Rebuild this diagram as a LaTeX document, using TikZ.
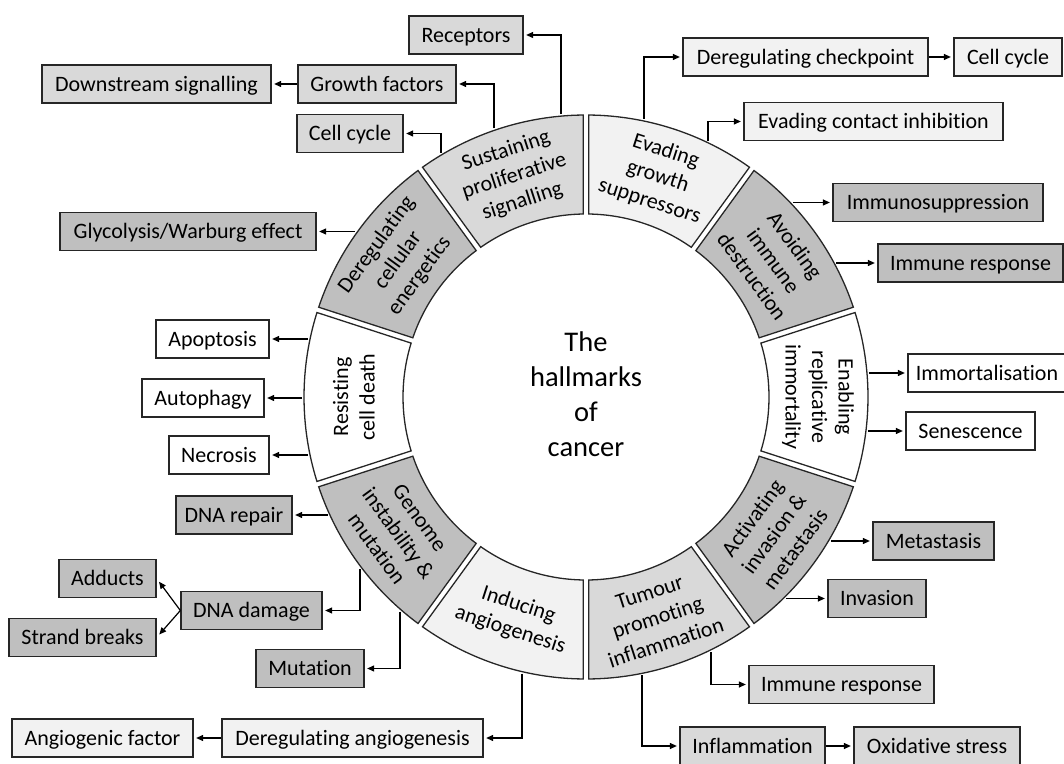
\documentclass[tikz,border=0pt]{standalone}
\usepackage{fontspec}
\setmainfont{Carlito}[Ligatures={NoCommon}]
\usetikzlibrary{arrows.meta,calc}
\definecolor{cD}{HTML}{BFBFBF}
\definecolor{cL}{HTML}{D9D9D9}
\definecolor{cV}{HTML}{F2F2F2}
\definecolor{edgec}{HTML}{262626}
\begin{document}
\begin{tikzpicture}[x=1pt,y=1pt,
  box/.style={draw=edgec, line width=1.3pt, minimum height=38pt, inner sep=0pt,
    text height=17.3pt, text depth=3.2pt, font=\fontsize{22}{26}\selectfont},
  conn/.style={line width=1.2pt, -{Triangle[length=7pt,width=6pt]}, shorten >=2.5pt},
  seg/.style={draw=edgec, line width=1.3pt},
  segtext/.style={align=center, inner sep=0pt, font=\fontsize{22}{26.5}\selectfont}
]
\useasboundingbox (0,0) rectangle (1064,763);

% ---------- boxes ----------
\node[box, fill=cL, minimum width=114pt] (rec) at (466,728) {Receptors};
\node[box, fill=cL, minimum width=229pt] (down) at (156.5,679) {Downstream signalling};
\node[box, fill=cL, minimum width=158pt] (grow) at (377,679) {Growth factors};
\node[box, fill=cL, minimum width=106pt] (ccl) at (350,629.5) {Cell cycle};
\node[box, fill=cD, minimum width=256pt] (gly) at (188,531.5) {Glycolysis/Warburg effect};
\node[box, fill=white, minimum width=113pt] (apo) at (212.5,424) {Apoptosis};
\node[box, fill=white, minimum width=122pt] (aut) at (203,365) {Autophagy};
\node[box, fill=white, minimum width=100pt] (nec) at (219,308) {Necrosis};
\node[box, fill=cD, minimum width=116pt] (dnar) at (234,248) {DNA repair};
\node[box, fill=cD, minimum width=97pt] (add) at (107.5,184.5) {Adducts};
\node[box, fill=cD, minimum width=141pt] (dnad) at (251.5,152.5) {DNA damage};
\node[box, fill=cD, minimum width=147pt] (str) at (82.5,125.5) {Strand breaks};
\node[box, fill=cD, minimum width=108pt] (mut) at (310,94.5) {Mutation};
\node[box, fill=cV, minimum width=181pt] (angf) at (102.5,25) {Angiogenic factor};
\node[box, fill=cV, minimum width=261pt] (dang) at (352.5,25) {Deregulating angiogenesis};
\node[box, fill=cV, minimum width=245pt] (chk) at (805.5,706) {Deregulating checkpoint};
\node[box, fill=cV, minimum width=108pt] (ccr) at (1008,706) {Cell cycle};
\node[box, fill=cV, minimum width=259pt] (eva) at (873.5,641.5) {Evading contact inhibition};
\node[box, fill=cD, minimum width=210pt] (ims) at (938,560.5) {Immunosuppression};
\node[box, fill=cD, minimum width=185pt] (imr) at (970.5,500) {Immune response};
\node[box, fill=white, minimum width=158pt] (imm) at (987,390) {Immortalisation};
\node[box, fill=white, minimum width=129pt] (sen) at (970.5,332) {Senescence};
\node[box, fill=cD, minimum width=121pt] (met) at (933.5,222) {Metastasis};
\node[box, fill=cD, minimum width=98pt] (inv) at (877,164.5) {Invasion};
\node[box, fill=cL, minimum width=185pt] (imb) at (841.5,78.5) {Immune response};
\node[box, fill=cL, minimum width=145pt] (inf) at (752.5,17) {Inflammation};
\node[box, fill=cL, minimum width=166pt] (oxi) at (937,17) {Oxidative stress};

% ---------- connector start points on the ring ----------
\coordinate (sRec) at (561,{366+284*cos(asin((561-586)/284))});
\coordinate (sGro) at (494,{366+284*cos(asin((494-586)/284))});
\coordinate (sCcl) at (441,{366+284*cos(asin((441-586)/284))});
\coordinate (sGly) at ({586-284*cos(asin((531.5-366)/284))},531.5);
\coordinate (sApo) at ({586-284*cos(asin((424-366)/284))},424);
\coordinate (sAut) at ({586-284},365);
\coordinate (sNec) at ({586-284*cos(asin((308-366)/284))},308);
\coordinate (sDnar) at ({586-284*cos(asin((248-366)/284))},248);
\coordinate (sDnad) at (360,{366-284*cos(asin((360-586)/284))});
\coordinate (sMut) at (400,{366-284*cos(asin((400-586)/284))});
\coordinate (sDang) at (522,{366-284*cos(asin((522-586)/284))});
\coordinate (sChk) at (644,{366+284*cos(asin((644-586)/284))});
\coordinate (sEva) at (708,{366+284*cos(asin((708-586)/284))});
\coordinate (sIms) at ({586+284*cos(asin((560.5-366)/284))},560.5);
\coordinate (sImr) at ({586+284*cos(asin((500-366)/284))},500);
\coordinate (sImm) at ({586+284*cos(asin((390-366)/284))},390);
\coordinate (sSen) at ({586+284*cos(asin((332-366)/284))},332);
\coordinate (sMet) at ({586+284*cos(asin((222-366)/284))},222);
\coordinate (sInv) at ({586+284*cos(asin((164.5-366)/284))},164.5);
\coordinate (sImb) at (711,{366-284*cos(asin((711-586)/284))});
\coordinate (sInf) at (642,{366-284*cos(asin((642-586)/284))});

% ---------- connectors ----------
\draw[conn] (sRec) |- (rec.east);
\draw[conn] (sGro) |- (grow.east);
\draw[conn] (grow.west) -- (down.east);
\draw[conn] (sCcl) |- (ccl.east);
\draw[conn] (sGly) -- (gly.east);
\draw[conn] (sApo) -- (apo.east);
\draw[conn] (sAut) -- (aut.east);
\draw[conn] (sNec) -- (nec.east);
\draw[conn] (sDnar) -- (dnar.east);
\draw[conn] (sDnad) |- (dnad.east);
\draw[conn, shorten >=4pt] (dnad.west) -- (add.east);
\draw[conn, shorten >=4pt] (dnad.west) -- (str.east);
\draw[conn] (sMut) |- (mut.east);
\draw[conn] (sDang) |- (dang.east);
\draw[conn] (dang.west) -- (angf.east);
\draw[conn] (sChk) |- (chk.west);
\draw[conn] (chk.east) -- (ccr.west);
\draw[conn] (sEva) |- (eva.west);
\draw[conn] (sIms) -- (ims.west);
\draw[conn] (sImr) -- (imr.west);
\draw[conn] (sImm) -- (imm.west);
\draw[conn] (sSen) -- (sen.west);
\draw[conn] (sMet) -- (met.west);
\draw[conn] (sInv) -- (inv.west);
\draw[conn] (sImb) |- (imb.west);
\draw[conn] (sInf) |- (inf.west);
\draw[conn] (inf.east) -- (oxi.west);

% ---------- ring ----------
\begin{scope}[shift={(586,366)}]
\foreach \ca/\fc/\rot/\txt [count=\i] in {
 108/cL/18/{Sustaining\\proliferative\\signalling},
 72/cV/-18/{Evading\\growth\\suppressors},
 36/cD/-54/{Avoiding\\immune\\destruction},
 0/white/-90/{Enabling\\replicative\\immortality},
 -36/cD/54/{Activating\\invasion \&\\metastasis},
 -72/cL/18/{Tumour\\promoting\\inflammation},
 -108/cV/-18/{Inducing\\angiogenesis},
 -144/cD/-54/{Genome\\instability \&\\mutation},
 180/white/90/{Resisting\\cell death},
 144/cD/54/{Deregulating\\cellular\\energetics}}
{
 \pgfmathsetmacro\ao{\ca-18+asin(2.8/282)}
 \pgfmathsetmacro\bo{\ca+18-asin(2.8/282)}
 \pgfmathsetmacro\ai{\ca-18+asin(2.8/183)}
 \pgfmathsetmacro\bi{\ca+18-asin(2.8/183)}
 \draw[seg, fill=\fc] (\ao:282) arc[start angle=\ao, end angle=\bo, radius=282]
   -- (\bi:183) arc[start angle=\bi, end angle=\ai, radius=183] -- cycle;
 \node[segtext, rotate=\rot] (seg\i) at (\ca:232) {\txt};
}
\node[align=center, inner sep=0pt, font=\fontsize{28.5}{35}\selectfont] (title) at (0,3) {The\\hallmarks\\of\\cancer};
\end{scope}
\end{tikzpicture}
\end{document}
